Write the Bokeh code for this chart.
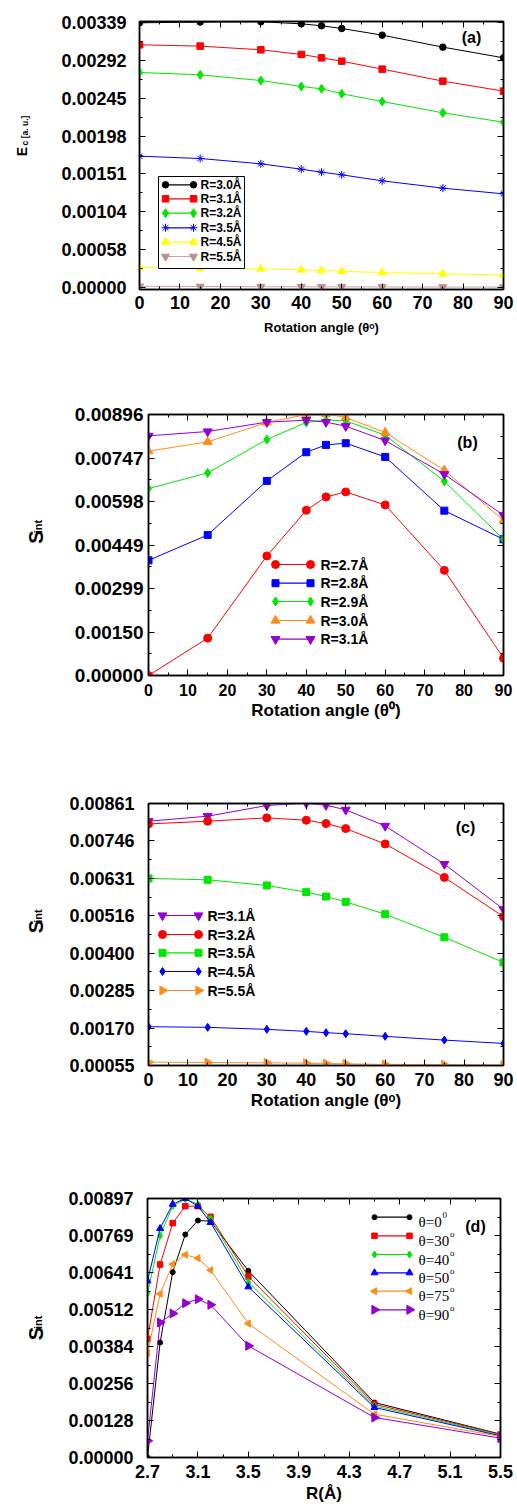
import math
from bokeh.plotting import figure
from bokeh.models import Range1d, FixedTicker, LinearAxis, Label, CustomJSTickFormatter, Grid
from bokeh.layouts import column, row
from bokeh.embed import file_html
from bokeh.resources import INLINE

# ---------------- data ----------------
theta = [0, 15, 30, 40, 45, 50, 60, 75, 90]
R_vals = [2.7, 2.8, 2.9, 3.0, 3.1, 3.2, 3.5, 4.5, 5.5]

# panel (a): correlation energy Ec vs rotation angle
a_names = ["R=3.0Å", "R=3.1Å", "R=3.2Å", "R=3.5Å", "R=4.5Å", "R=5.5Å"]
a_R30 = [0.003390, 0.003399, 0.003403, 0.003377, 0.003352, 0.003317, 0.003232, 0.003078, 0.002941]
a_R31 = [0.003108, 0.003091, 0.003044, 0.002984, 0.002941, 0.002898, 0.002796, 0.002642, 0.002514]
a_R32 = [0.002753, 0.002723, 0.002650, 0.002574, 0.002544, 0.002480, 0.002381, 0.002236, 0.002116]
a_R35 = [0.001680, 0.001650, 0.001582, 0.001513, 0.001475, 0.001441, 0.001364, 0.001270, 0.001197]
a_R45 = [0.000252, 0.000244, 0.000235, 0.000222, 0.000214, 0.000205, 0.000188, 0.000171, 0.000158]
a_R55 = [0.000012, 0.000009, 0.000006, 0.000005, 0.000004, 0.000004, 0.000003, 0.000002, 0.000001]
a_yticklabels = ["0.00000", "0.00058", "0.00104", "0.00151", "0.00198", "0.00245", "0.00292", "0.00339"]

# panel (b): S_int vs rotation angle, small R
b_names = ["R=2.7Å", "R=2.8Å", "R=2.9Å", "R=3.0Å", "R=3.1Å"]
b_R27 = [0.000000, 0.001283, 0.004102, 0.005672, 0.006130, 0.006302, 0.005855, 0.003609, 0.000596]
b_R28 = [0.003953, 0.004824, 0.006680, 0.007665, 0.007917, 0.007975, 0.007505, 0.005660, 0.004675]
b_R29 = [0.006416, 0.006955, 0.008101, 0.008685, 0.008765, 0.008742, 0.008250, 0.006669, 0.004675]
b_R30 = [0.007700, 0.008021, 0.008685, 0.008960, 0.008983, 0.008857, 0.008341, 0.007047, 0.005328]
b_R31 = [0.008227, 0.008376, 0.008697, 0.008765, 0.008697, 0.008559, 0.008066, 0.006909, 0.005500]
b_yticklabels = ["0.00000", "0.00150", "0.00299", "0.00449", "0.00598", "0.00747", "0.00896"]

# panel (c): S_int vs rotation angle, larger R
c_names = ["R=3.1Å", "R=3.2Å", "R=3.5Å", "R=4.5Å", "R=5.5Å"]
c_R31 = [0.008065, 0.008219, 0.008549, 0.008620, 0.008559, 0.008415, 0.007920, 0.006747, 0.005357]
c_R32 = [0.007982, 0.008065, 0.008168, 0.008095, 0.007993, 0.007838, 0.007365, 0.006335, 0.005131]
c_R35 = [0.006304, 0.006263, 0.006088, 0.005882, 0.005748, 0.005584, 0.005203, 0.004493, 0.003721]
c_R45 = [0.001744, 0.001724, 0.001662, 0.001600, 0.001559, 0.001528, 0.001446, 0.001332, 0.001229]
c_R55 = [0.000653, 0.000643, 0.000632, 0.000622, 0.000612, 0.000601, 0.000581, 0.000571, 0.000555]
c_yticklabels = ["0.00055", "0.00170", "0.00285", "0.00400", "0.00516", "0.00631", "0.00746", "0.00861"]

# panel (d): S_int vs R for several angles
d_names = [("θ=0", "0"), ("θ=30", "o"), ("θ=40", "o"), ("θ=50", "o"), ("θ=75", "o"), ("θ=90", "o")]
d_t0 = [0.000000, 0.003983, 0.006419, 0.007723, 0.008208, 0.008185, 0.006465, 0.001905, 0.000808]
d_t30 = [0.004110, 0.006684, 0.008116, 0.008704, 0.008704, 0.008335, 0.006269, 0.001847, 0.000797]
d_t40 = [0.005691, 0.007677, 0.008716, 0.008947, 0.008774, 0.008277, 0.006072, 0.001789, 0.000773]
d_t50 = [0.006119, 0.007931, 0.008774, 0.008970, 0.008704, 0.008139, 0.005911, 0.001732, 0.000750]
d_t75 = [0.003613, 0.005668, 0.006696, 0.007019, 0.006904, 0.006488, 0.004641, 0.001501, 0.000727]
d_t90 = [0.000577, 0.004675, 0.004987, 0.005345, 0.005484, 0.005287, 0.003867, 0.001385, 0.000670]
d_yticklabels = ["0.00000", "0.00128", "0.00256", "0.00384", "0.00512", "0.00641", "0.00769", "0.00897"]
d_xticks = [2.7, 3.1, 3.5, 3.9, 4.3, 4.7, 5.1, 5.5]

# ---------------- styling / layout ----------------
PAGE_W = 517     # Bokeh's page template has no body margin, so panels span the full window
TW = 45          # width of the side strip that carries the rotated y title
FONT = "Liberation Sans"
SERIF = "Liberation Serif"
GREEN = "#00e600"
ORANGE = "#ff8c1a"
PURPLE = "#9400d3"
BROWN = "#bc8f8f"


class Geo:
    def __init__(self, top, bot, L, R, T, B, xr, yr):
        self.top, self.bot, self.L, self.R, self.T, self.B = top, bot, L, R, T, B
        self.xr, self.yr = xr, yr

    def x(self, px):
        return self.xr[0] + (px - self.L) / (self.R - self.L) * (self.xr[1] - self.xr[0])

    def y(self, py):
        return self.yr[0] + (self.B - py) / (self.B - self.T) * (self.yr[1] - self.yr[0])


EMPTY = CustomJSTickFormatter(code="return '';")


def style_axis(ax, fs, standoff):
    ax.axis_line_color = "black"
    ax.axis_line_width = 1.5
    ax.major_tick_in = 6
    ax.major_tick_out = 0
    ax.minor_tick_in = 3
    ax.minor_tick_out = 0
    ax.major_tick_line_color = "black"
    ax.minor_tick_line_color = "black"
    ax.major_label_text_font = FONT
    ax.major_label_text_font_style = "bold"
    ax.major_label_text_color = "black"
    ax.major_label_standoff = standoff
    ax.major_label_text_font_size = f"{fs}px"


def no_grid(f):
    f.center = [c for c in f.center if not isinstance(c, Grid)]


def make_panel(g, xticks, xminor, xdigits, yticks, yminor, ylabels, xfs, yfs, xstand, ystand,
               xtitle, xtitle_fs, xtitle_stand):
    p = figure(width=PAGE_W - TW, height=g.bot - g.top, x_range=Range1d(*g.xr), y_range=Range1d(*g.yr),
               output_backend="svg", toolbar_location=None,
               x_axis_location=None, y_axis_location=None,
               min_border_left=g.L - TW, min_border_right=PAGE_W - g.R,
               min_border_top=g.T - g.top, min_border_bottom=g.bot - g.B,
               background_fill_color="white", border_fill_color="white",
               outline_line_color="black", outline_line_width=1.5)
    no_grid(p)
    xfmt = CustomJSTickFormatter(args=dict(d=xdigits), code="return tick.toFixed(d);")
    y0 = yticks[0]
    dy = yticks[1] - yticks[0]
    yfmt = CustomJSTickFormatter(args=dict(labels=ylabels, y0=y0, dy=dy),
                                 code="const i = Math.round((tick - y0) / dy);"
                                      "return (i >= 0 && i < labels.length) ? labels[i] : '';")
    for loc in ["below", "above"]:
        ax = LinearAxis(ticker=FixedTicker(ticks=xticks, minor_ticks=xminor),
                        formatter=xfmt if loc == "below" else EMPTY)
        style_axis(ax, xfs, xstand)
        if loc == "below":
            ax.axis_label = xtitle
            ax.axis_label_text_font = FONT
            ax.axis_label_text_font_style = "bold"
            ax.axis_label_text_font_size = f"{xtitle_fs}px"
            ax.axis_label_text_color = "black"
            ax.axis_label_standoff = xtitle_stand
        p.add_layout(ax, loc)
    for loc in ["left", "right"]:
        ax = LinearAxis(ticker=FixedTicker(ticks=yticks, minor_ticks=yminor),
                        formatter=yfmt if loc == "left" else EMPTY)
        style_axis(ax, yfs, ystand)
        p.add_layout(ax, loc)
    return p


def title_strip(g):
    """Narrow figure left of a panel; its frame fills it, so labels inside it are in image pixels."""
    t = figure(width=TW, height=g.bot - g.top, x_range=Range1d(0, TW), y_range=Range1d(g.bot, g.top),
               output_backend="svg", toolbar_location=None, x_axis_location=None, y_axis_location=None,
               min_border_left=0, min_border_right=0, min_border_top=0, min_border_bottom=0,
               background_fill_color="white", border_fill_color="white", outline_line_color=None)
    no_grid(t)
    return t


def tlab(t, px, py, text, size):
    t.add_layout(Label(x=px, y=py, text=text, text_font=FONT, text_font_size=f"{size}px",
                       text_font_style="bold", text_align="left", text_baseline="alphabetic",
                       angle=math.pi / 2, text_color="black"))


def y_title(t, big, sub, x_base, y_start, big_fs, sub_fs, sub_dx, sub_y):
    tlab(t, x_base, y_start, big, big_fs)
    tlab(t, x_base + sub_dx, sub_y, sub, sub_fs)


def lab(p, g, px, py, text, size, font=FONT, style="bold", align="left", baseline="alphabetic"):
    p.add_layout(Label(x=g.x(px), y=g.y(py), text=text, text_font=font, text_font_size=f"{size}px",
                       text_font_style=style, text_align=align, text_baseline=baseline,
                       text_color="black"))


def series(p, xs, ys, color, marker, size, angle=0.0, lw=1.0, line_alpha=1.0):
    p.line(xs, ys, line_color=color, line_width=lw, line_alpha=line_alpha)
    p.scatter(xs, ys, marker=marker, size=size, angle=angle, fill_color=color, line_color=color)


def leg_item(p, g, x1, x2, y, color, marker, size, angle=0.0, line_alpha=1.0):
    xs = [g.x(x1), g.x(x2)]
    ys = [g.y(y), g.y(y)]
    p.line(xs, ys, line_color=color, line_width=1.2, line_alpha=line_alpha)
    p.scatter(xs, ys, marker=marker, size=size, angle=angle, fill_color=color, line_color=color)


x_major = list(range(0, 91, 10))
x_minor = list(range(5, 90, 10))


def lin(a, b, n):
    return [a + (b - a) * i / (n - 1) for i in range(n)]


def mids(t):
    return [(t[i] + t[i + 1]) / 2 for i in range(len(t) - 1)]


# ---------------- panel (a) ----------------
ga = Geo(0, 372, 139, 503, 21, 289, (0, 90), (-2.95e-5, 0.0034067))
ya = lin(0.0, 0.00339, len(a_yticklabels))
pa = make_panel(ga, x_major, x_minor, 0, ya, mids(ya), a_yticklabels, 18, 18, 6, 13,
                "Rotation angle (θᵒ)", 13, 8)
a_series = [(a_R30, "black", "circle", 6.5, 0.0, 1.0),
            (a_R31, "red", "square", 6.5, 0.0, 1.0),
            (a_R32, GREEN, "diamond", 9, 0.0, 1.0),
            (a_R35, "blue", "asterisk", 8, 0.0, 1.0),
            (a_R45, "#ffff00", "triangle", 8, 0.0, 1.0),
            (a_R55, BROWN, "inverted_triangle", 8, 0.0, 0.8)]
for ys, col, mk, sz, ang, la in a_series:
    series(pa, theta, ys, col, mk, sz, ang, line_alpha=la)
pa.quad(left=ga.x(158), right=ga.x(244), top=ga.y(176), bottom=ga.y(268),
        fill_color="white", line_color="black", line_width=1)
rows_a = [184.3, 198.3, 212.7, 227.3, 241.7, 256]
for (ys, col, mk, sz, ang, la), name, ry in zip(a_series, a_names, rows_a):
    leg_item(pa, ga, 165, 193, ry, col, mk, sz, ang, line_alpha=la)
    lab(pa, ga, 200, ry, name, 12, baseline="middle")
lab(pa, ga, 471, 37, "(a)", 16, align="center", baseline="middle")
ta = title_strip(ga)
y_title(ta, "E", "c [a. u.]", 21, 187, 14, 8.5, 3, 172)

# ---------------- panel (b) ----------------
gb = Geo(372, 760, 148, 503, 414, 675, (0, 90), (0.0, 0.00896))
yb = lin(0.0, 0.00896, len(b_yticklabels))
pb = make_panel(gb, x_major, x_minor, 0, yb, mids(yb), b_yticklabels, 16, 19, 8, 5,
                "Rotation angle (θ⁰)", 17, 2)
b_series = [(b_R27, "red", "circle", 8, 0.0),
            (b_R28, "blue", "square", 7, 0.0),
            (b_R29, GREEN, "diamond", 9, 0.0),
            (b_R30, ORANGE, "triangle", 9, 0.0),
            (b_R31, PURPLE, "inverted_triangle", 9, 0.0)]
for ys, col, mk, sz, ang in b_series:
    series(pb, theta, ys, col, mk, sz, ang)
rows_b = [564, 582.7, 601, 620, 638.7]
for (ys, col, mk, sz, ang), name, ry in zip(b_series, b_names, rows_b):
    leg_item(pb, gb, 275, 310, ry, col, mk, sz, ang)
    lab(pb, gb, 320, ry, name, 14, baseline="middle")
lab(pb, gb, 467, 442, "(b)", 16, align="center", baseline="middle")
tb = title_strip(gb)
y_title(tb, "S", "int", 35, 564, 20, 11, 2.5, 548.5)

# ---------------- panel (c) ----------------
gc = Geo(760, 1150, 148, 503, 803, 1065, (0, 90), (0.00055, 0.00861))
yc = lin(0.00055, 0.00861, len(c_yticklabels))
pc = make_panel(gc, x_major, x_minor, 0, yc, mids(yc), c_yticklabels, 18, 18, 7, 14,
                "Rotation angle (θᵒ)", 17, 2)
c_series = [(c_R31, PURPLE, "inverted_triangle", 9, 0.0),
            (c_R32, "red", "circle", 8, 0.0),
            (c_R35, GREEN, "square", 7, 0.0),
            (c_R45, "blue", "diamond", 8, 0.0),
            (c_R55, ORANGE, "triangle", 9, -math.pi / 2)]
for ys, col, mk, sz, ang in c_series:
    series(pc, theta, ys, col, mk, sz, ang)
rows_c = [915, 934, 952.3, 971, 990]
for (ys, col, mk, sz, ang), name, ry in zip(c_series, c_names, rows_c):
    leg_item(pc, gc, 162, 198, ry, col, mk, sz, ang)
    lab(pc, gc, 207, ry, name, 14, baseline="middle")
lab(pc, gc, 465, 827, "(c)", 16, align="center", baseline="middle")
tc = title_strip(gc)
y_title(tc, "S", "int", 35, 953, 20, 11, 2.5, 937.5)

# ---------------- panel (d) ----------------
gd = Geo(1150, 1508, 147, 500, 1198, 1457, (2.7, 5.5), (0.0, 0.00897))
yd = lin(0.0, 0.00897, len(d_yticklabels))
pd_ = make_panel(gd, d_xticks, mids(d_xticks), 1, yd, mids(yd), d_yticklabels, 18, 18, 7, 14,
                 "R(Å)", 17, 3)
d_series = [(d_t0, "black", "circle", 5, 0.0),
            (d_t30, "red", "square", 5.5, 0.0),
            (d_t40, GREEN, "diamond", 7, 0.0),
            (d_t50, "blue", "triangle", 7, 0.0),
            (d_t75, ORANGE, "triangle", 7, math.pi / 2),
            (d_t90, PURPLE, "triangle", 9, -math.pi / 2)]
for ys, col, mk, sz, ang in d_series:
    series(pd_, R_vals, ys, col, mk, sz, ang)
rows_d = [1216.7, 1235.3, 1254, 1272.3, 1290.7, 1309.3]
for (ys, col, mk, sz, ang), (name, sup), ry in zip(d_series, d_names, rows_d):
    leg_item(pd_, gd, 374, 409, ry, col, mk, sz, ang)
    lab(pd_, gd, 418, ry + 5, name, 15, font=SERIF, style="normal")
    w = (0.5 + 0.564 + 0.5 * (len(name) - 2)) * 15
    lab(pd_, gd, 418 + w + 0.5, ry - 2, sup, 9, font=SERIF, style="normal")
lab(pd_, gd, 475, 1226, "(d)", 16, align="center", baseline="middle")
td = title_strip(gd)
y_title(td, "S", "int", 35, 1346, 20, 11, 2.5, 1330.5)

layout = column(row(ta, pa, spacing=0), row(tb, pb, spacing=0),
                row(tc, pc, spacing=0), row(td, pd_, spacing=0), spacing=0)
open("out.html", "w").write(file_html(layout, INLINE))
